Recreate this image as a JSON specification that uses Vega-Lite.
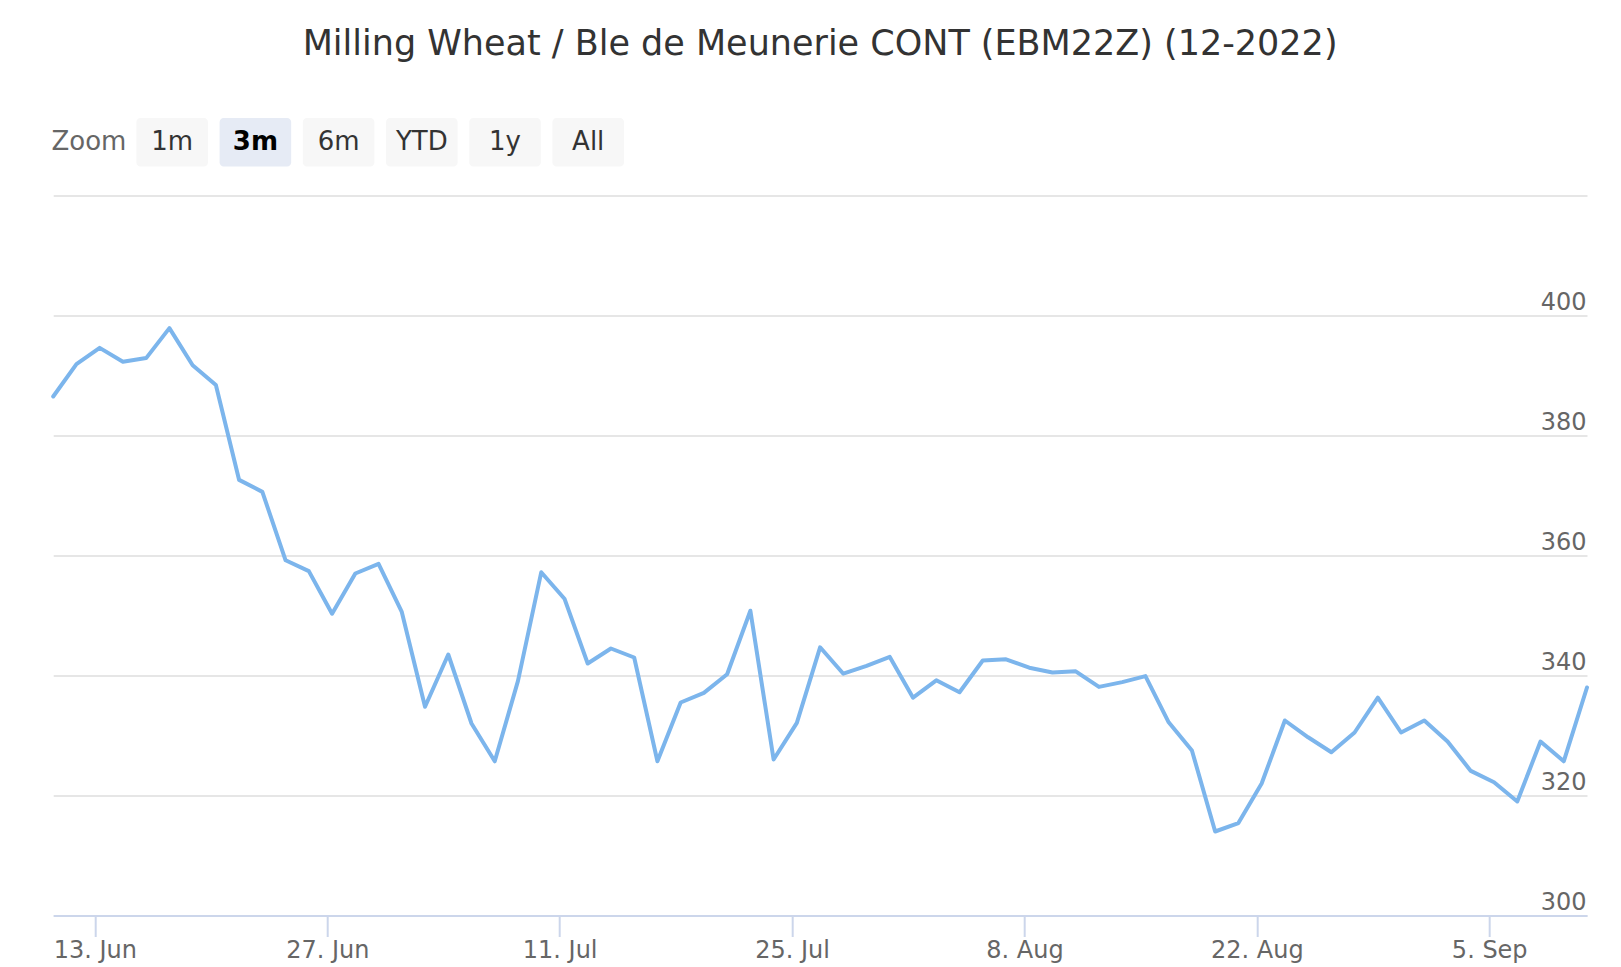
{
  "$schema": "https://vega.github.io/schema/vega-lite/v6.json",
  "background": "white",
  "padding": {"left": 51.2, "top": 27, "right": 36, "bottom": 0},
  "title": {
    "text": "Milling Wheat / Ble de Meunerie CONT (EBM22Z) (12-2022)",
    "anchor": "middle",
    "fontSize": 35,
    "fontWeight": "normal",
    "font": "DejaVu Sans",
    "color": "#333333",
    "offset": 56
  },
  "spacing": 28.5,
  "vconcat": [
    {
      "width": 570.8,
      "height": 48.5,
      "data": {"values": [
        {"label": "Zoom", "kind": "label"},
        {"label": "1m", "kind": "button"},
        {"label": "3m", "kind": "selected"},
        {"label": "6m", "kind": "button"},
        {"label": "YTD", "kind": "button"},
        {"label": "1y", "kind": "button"},
        {"label": "All", "kind": "button"}
      ]},
      "encoding": {
        "x": {"field": "label", "type": "nominal", "axis": null,
              "scale": {"domain": ["Zoom", "1m", "3m", "6m", "YTD", "1y", "All"], "paddingInner": 0.14, "paddingOuter": 0}},
        "y": {"datum": "row", "type": "nominal", "axis": null,
              "scale": {"paddingInner": 0, "paddingOuter": 0}}
      },
      "layer": [
        {"transform": [{"filter": "datum.kind === 'button'"}],
         "mark": {"type": "rect", "fill": "#f7f7f7", "cornerRadius": 4}},
        {"transform": [{"filter": "datum.kind === 'selected'"}],
         "mark": {"type": "rect", "fill": "#e6ebf5", "cornerRadius": 4}},
        {"transform": [{"filter": "datum.kind === 'button'"}],
         "mark": {"type": "text", "font": "DejaVu Sans", "fontSize": 26, "color": "#333333", "baseline": "middle", "align": "center"},
         "encoding": {"text": {"field": "label"}}},
        {"transform": [{"filter": "datum.kind === 'selected'"}],
         "mark": {"type": "text", "font": "DejaVu Sans", "fontSize": 26, "fontWeight": "bold", "color": "#000000", "baseline": "middle", "align": "center"},
         "encoding": {"text": {"field": "label"}}},
        {"transform": [{"filter": "datum.kind === 'label'"}],
         "mark": {"type": "text", "font": "DejaVu Sans", "fontSize": 26, "color": "#666666", "baseline": "middle", "align": "center"},
         "encoding": {"text": {"field": "label"}}}
      ]
    },
    {
      "width": 1533.8,
      "height": 720,
      "data": {"values": [
        {"date": "2022-06-09", "price": 386.5},
        {"date": "2022-06-10", "price": 391.9},
        {"date": "2022-06-13", "price": 394.6},
        {"date": "2022-06-14", "price": 392.3},
        {"date": "2022-06-15", "price": 392.9},
        {"date": "2022-06-16", "price": 397.9},
        {"date": "2022-06-17", "price": 391.7},
        {"date": "2022-06-20", "price": 388.4},
        {"date": "2022-06-21", "price": 372.6},
        {"date": "2022-06-22", "price": 370.6},
        {"date": "2022-06-23", "price": 359.2},
        {"date": "2022-06-24", "price": 357.4},
        {"date": "2022-06-27", "price": 350.3},
        {"date": "2022-06-28", "price": 357.0},
        {"date": "2022-06-29", "price": 358.6},
        {"date": "2022-06-30", "price": 350.6},
        {"date": "2022-07-01", "price": 334.8},
        {"date": "2022-07-04", "price": 343.5},
        {"date": "2022-07-05", "price": 332.0},
        {"date": "2022-07-06", "price": 325.7},
        {"date": "2022-07-07", "price": 339.1},
        {"date": "2022-07-08", "price": 357.2},
        {"date": "2022-07-11", "price": 352.8},
        {"date": "2022-07-12", "price": 342.0},
        {"date": "2022-07-13", "price": 344.5},
        {"date": "2022-07-14", "price": 343.0},
        {"date": "2022-07-15", "price": 325.7},
        {"date": "2022-07-18", "price": 335.5},
        {"date": "2022-07-19", "price": 337.1},
        {"date": "2022-07-20", "price": 340.2},
        {"date": "2022-07-21", "price": 350.8},
        {"date": "2022-07-22", "price": 326.0},
        {"date": "2022-07-25", "price": 332.1},
        {"date": "2022-07-26", "price": 344.7},
        {"date": "2022-07-27", "price": 340.3},
        {"date": "2022-07-28", "price": 341.6},
        {"date": "2022-07-29", "price": 343.1},
        {"date": "2022-08-01", "price": 336.3},
        {"date": "2022-08-02", "price": 339.2},
        {"date": "2022-08-03", "price": 337.2},
        {"date": "2022-08-04", "price": 342.5},
        {"date": "2022-08-05", "price": 342.7},
        {"date": "2022-08-08", "price": 341.3},
        {"date": "2022-08-09", "price": 340.5},
        {"date": "2022-08-10", "price": 340.7},
        {"date": "2022-08-11", "price": 338.1},
        {"date": "2022-08-12", "price": 338.9},
        {"date": "2022-08-15", "price": 339.9},
        {"date": "2022-08-16", "price": 332.2},
        {"date": "2022-08-17", "price": 327.5},
        {"date": "2022-08-18", "price": 314.0},
        {"date": "2022-08-19", "price": 315.4},
        {"date": "2022-08-22", "price": 322.0},
        {"date": "2022-08-23", "price": 332.5},
        {"date": "2022-08-24", "price": 329.7},
        {"date": "2022-08-25", "price": 327.2},
        {"date": "2022-08-26", "price": 330.5},
        {"date": "2022-08-29", "price": 336.3},
        {"date": "2022-08-30", "price": 330.5},
        {"date": "2022-08-31", "price": 332.5},
        {"date": "2022-09-01", "price": 329.0},
        {"date": "2022-09-02", "price": 324.1},
        {"date": "2022-09-05", "price": 322.2},
        {"date": "2022-09-06", "price": 319.0},
        {"date": "2022-09-07", "price": 329.0},
        {"date": "2022-09-08", "price": 325.7},
        {"date": "2022-09-09", "price": 338.0}
      ]},
      "mark": {"type": "line", "color": "#7cb5ec", "strokeWidth": 4, "strokeJoin": "round", "strokeCap": "round"},
      "encoding": {
        "x": {
          "field": "date", "type": "ordinal", "sort": null,
          "scale": {"padding": 0},
          "axis": {
            "title": null,
            "values": ["2022-06-13", "2022-06-27", "2022-07-11", "2022-07-25", "2022-08-08", "2022-08-22", "2022-09-05"],
            "labelExpr": "utcFormat(toDate(datum.value), '%-d. %b')",
            "labelAngle": 0,
            "labelFont": "DejaVu Sans",
            "labelFontSize": 24,
            "labelColor": "#666666",
            "labelPadding": 2,
            "tickOffset": -4.8,
            "tickSize": 21,
            "tickWidth": 2,
            "tickColor": "#ccd6eb",
            "domainColor": "#ccd6eb",
            "domainWidth": 2,
            "grid": false
          }
        },
        "y": {
          "field": "price", "type": "quantitative",
          "scale": {"domain": [300, 420], "nice": false, "zero": false},
          "axis": {
            "title": null,
            "orient": "right",
            "values": [300, 320, 340, 360, 380, 400, 420],
            "labelExpr": "datum.value >= 420 ? '' : datum.label",
            "domain": false,
            "ticks": false,
            "grid": true,
            "gridColor": "#e6e6e6",
            "gridWidth": 2,
            "labelAlign": "right",
            "labelBaseline": "alphabetic",
            "labelOffset": -6,
            "labelPadding": -1,
            "labelFont": "DejaVu Sans",
            "labelFontSize": 24,
            "labelColor": "#666666"
          }
        }
      }
    }
  ],
  "config": {
    "view": {"stroke": null},
    "font": "DejaVu Sans"
  }
}
